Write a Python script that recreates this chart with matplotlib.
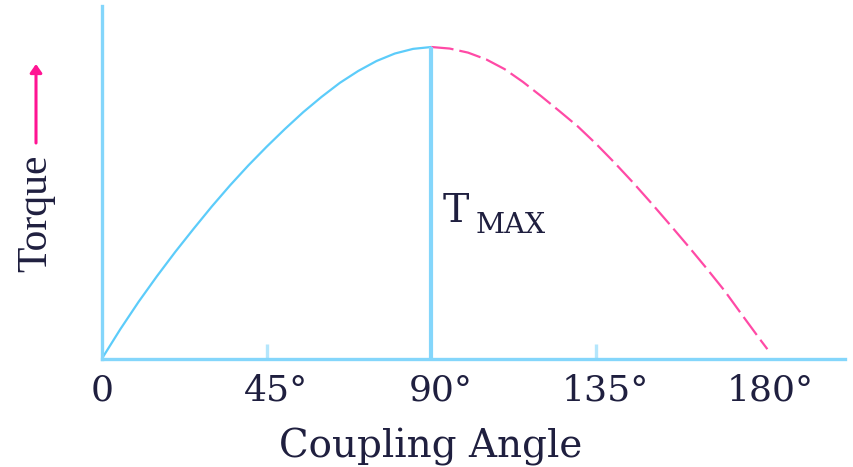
import matplotlib
matplotlib.use("Agg")
import matplotlib.pyplot as plt
from matplotlib.transforms import ScaledTranslation

# Data (angle in degrees, torque normalised to T_MAX = 1)
angles_rise = [0, 5, 10, 15, 20, 25, 30, 35, 40, 45, 50, 55, 60, 65, 70, 75, 80, 85, 90]
torque_rise = [0, 0.094, 0.182, 0.264, 0.342, 0.416, 0.488, 0.556, 0.620, 0.680,
               0.737, 0.791, 0.840, 0.885, 0.923, 0.955, 0.979, 0.994, 1.0]
angles_fall = [90, 95, 100, 105, 110, 115, 120, 125, 130, 135, 140, 145, 150,
               155, 160, 165, 170, 175, 180, 181.8]
torque_fall = [1.0, 0.995, 0.982, 0.960, 0.929, 0.888, 0.842, 0.794, 0.745, 0.689,
               0.629, 0.566, 0.500, 0.432, 0.363, 0.292, 0.219, 0.138, 0.058, 0.030]
tick_pos = [0, 45, 90, 135, 180]
tick_labels = ["0", "45°", "90°", "135°", "180°"]
minor_ticks = [45, 135]
peak_angle = 90
peak_torque = 1.0

AX_BLUE = "#84d6fb"
CURVE_BLUE = "#5cccfa"
PINK = "#ff4aa6"
TXT = "#1f1f3f"
SERIF = "DejaVu Serif"

fig = plt.figure(figsize=(8.54, 4.67), dpi=100)
ax = fig.add_axes([102 / 854, 108.5 / 467, (845 - 102) / 854, (358.5 - 6) / 467])
ax.set_xlim(0, (845 - 102) / 3.66)
ax.set_ylim(0, 352.5 / 311.5)

ax.plot(angles_rise, torque_rise, color=CURVE_BLUE, lw=1.6,
        solid_joinstyle="round", solid_capstyle="butt")
ax.plot(angles_fall, torque_fall, color=PINK, lw=1.6, dashes=(10, 2.7))
ax.vlines(peak_angle, 0, peak_torque, color=AX_BLUE, lw=3.0)

for s in ["top", "right"]:
    ax.spines[s].set_visible(False)
for s in ["left", "bottom"]:
    ax.spines[s].set_color(AX_BLUE)
    ax.spines[s].set_linewidth(2.4)

ax.set_yticks([])
ax.xaxis.remove_overlapping_locs = False
ax.set_xticks(tick_pos)
ax.set_xticklabels(tick_labels, fontfamily=SERIF, fontsize=26, color=TXT)
ax.tick_params(axis="x", which="major", length=0, pad=11)
ax.set_xticks(minor_ticks, minor=True)
ax.tick_params(axis="x", which="minor", direction="in", length=11, width=2.4,
               color="#b4e6fc")
off = ScaledTranslation(9 / 100, 0, fig.dpi_scale_trans)
for lbl in ax.get_xticklabels()[1:]:
    lbl.set_transform(lbl.get_transform() + off)

fig.text(431 / 854, (467 - 457) / 467, "Coupling Angle", fontfamily=SERIF,
         fontsize=28, color=TXT, ha="center", va="baseline")

fig.text(36 / 854, (467 - 213) / 467, "Torque", fontfamily="Liberation Serif",
         fontsize=30, color=TXT, rotation=90, ha="center", va="center")
ax.annotate("", xy=(36 / 854, (467 - 64) / 467), xytext=(36 / 854, (467 - 143) / 467),
            xycoords="figure fraction", textcoords="figure fraction",
            arrowprops=dict(arrowstyle="-|>,head_length=0.5,head_width=0.35",
                            color="#ff1493", lw=2.2, shrinkA=0, shrinkB=0))

ax.text(93.2, 0.438, "T", fontfamily=SERIF, fontsize=28.5, color=TXT,
        ha="left", va="baseline")
ax.text(102.0, 0.403, "MAX", fontfamily=SERIF, fontsize=20.5, color=TXT,
        ha="left", va="baseline")

fig.savefig("out.png", dpi=100, facecolor="white")
